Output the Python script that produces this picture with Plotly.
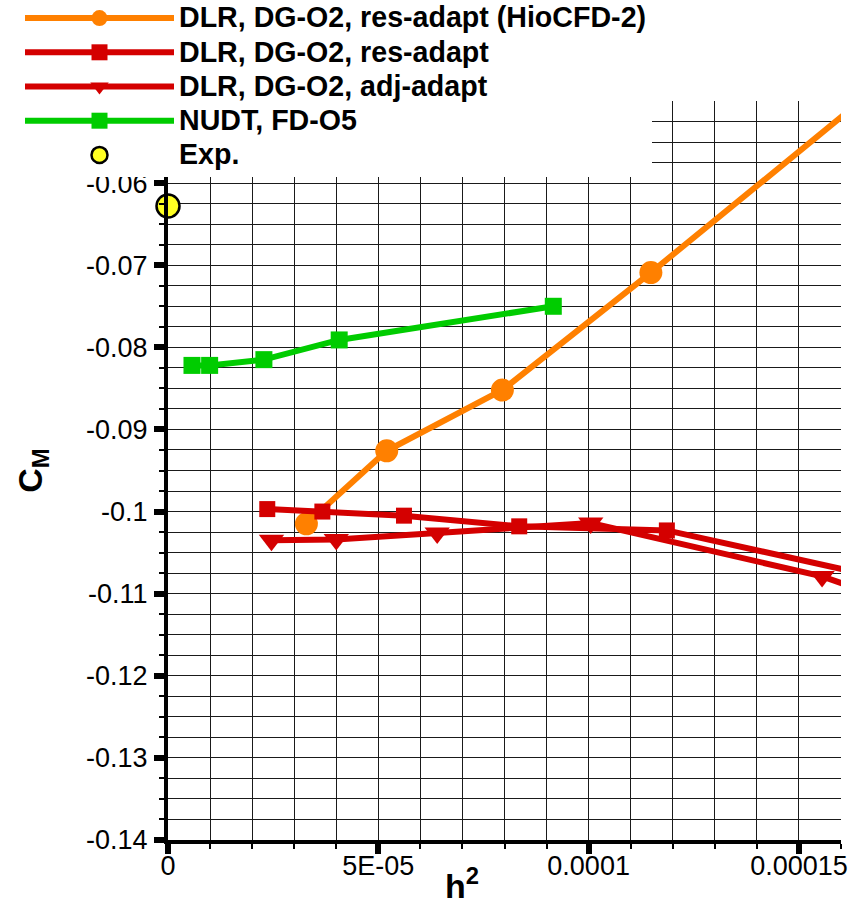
import plotly.graph_objects as go

# ---------------- data ----------------
hio_x = [3.29e-5, 5.20e-5, 7.95e-5, 1.148e-4, 1.75e-4]
hio_y = [-0.1015, -0.0926, -0.0852, -0.0709, -0.0457]

res_x = [2.36e-5, 3.67e-5, 5.61e-5, 8.35e-5, 1.186e-4, 1.70e-4]
res_y = [-0.0997, -0.1000, -0.1005, -0.1018, -0.1023, -0.1081]

adj_x = [2.46e-5, 4.00e-5, 6.40e-5, 1.005e-4, 1.555e-4, 2.40e-4]
adj_y = [-0.1035, -0.1034, -0.1026, -0.1014, -0.1079, -0.1230]

nudt_x = [5.7e-6, 9.9e-6, 2.28e-5, 4.07e-5, 9.16e-5]
nudt_y = [-0.0822, -0.0822, -0.0815, -0.0791, -0.0750]

exp_x = [0.0]
exp_y = [-0.0628]

names = [
    "DLR, DG-O2, res-adapt (HioCFD-2)",
    "DLR, DG-O2, res-adapt",
    "DLR, DG-O2, adj-adapt",
    "NUDT, FD-O5",
    "Exp.",
]

x_tickvals = [0, 5e-5, 1e-4, 1.5e-4]
x_ticktext = ["0", "5E-05", "0.0001", "0.00015"]
y_tickvals = [-0.14, -0.13, -0.12, -0.11, -0.10, -0.09, -0.08, -0.07, -0.06]
y_ticktext = ["-0.14", "-0.13", "-0.12", "-0.11", "-0.1", "-0.09", "-0.08", "-0.07", "-0.06"]

X_RANGE = [0, 1.6e-4]
Y_RANGE = [-0.14, -0.05]

ORANGE = "#FF8000"
RED = "#D40000"
GREEN = "#00CC00"
YELLOW = "#FFFF22"

W, H = 859, 906
ML, MR, MT, MB = 168, 18, 101, 66
PW, PH = W - ML - MR, H - MT - MB

LEG_FONT = 28.6


def lname(s):
    return f'<span style="font-size:{LEG_FONT}px">{s}</span>'


fig = go.Figure()
fig.add_trace(go.Scatter(x=hio_x, y=hio_y, name=lname(names[0]), mode="lines+markers",
                         line=dict(color=ORANGE, width=6),
                         marker=dict(symbol="circle", size=23, color=ORANGE)))
fig.add_trace(go.Scatter(x=res_x, y=res_y, name=lname(names[1]), mode="lines+markers",
                         line=dict(color=RED, width=6),
                         marker=dict(symbol="square", size=16, color=RED)))
fig.add_trace(go.Scatter(x=adj_x, y=adj_y, name=lname(names[2]), mode="lines+markers",
                         line=dict(color=RED, width=6),
                         marker=dict(symbol="triangle-down", size=22, color=RED)))
fig.add_trace(go.Scatter(x=nudt_x, y=nudt_y, name=lname(names[3]), mode="lines+markers",
                         line=dict(color=GREEN, width=6),
                         marker=dict(symbol="square", size=17, color=GREEN)))
fig.add_trace(go.Scatter(x=exp_x, y=exp_y, name=lname(names[4]), mode="markers",
                         cliponaxis=False,
                         marker=dict(symbol="circle", size=23, color=YELLOW,
                                     line=dict(color="black", width=2.5))))

GRID = "#1a1a1a"
tickfont = dict(family="Liberation Sans, Arial, sans-serif", size=27, color="black")

fig.update_layout(
    width=W, height=H,
    margin=dict(l=ML, r=MR, t=MT, b=MB, autoexpand=False),
    paper_bgcolor="white", plot_bgcolor="white",
    font=dict(family="Liberation Sans, Arial, sans-serif", color="black"),
    showlegend=True,
    legend=dict(
        xref="paper", yref="paper",
        x=(20 - ML) / PW, y=1 + (MT + 4) / PH, xanchor="left", yanchor="top",
        bgcolor="white", borderwidth=0,
        font=dict(family="Liberation Sans, Arial, sans-serif", size=24,
                  color="black", weight="bold"),
        itemwidth=149,
        tracegroupgap=0,
    ),
    xaxis=dict(
        range=X_RANGE, tickvals=x_tickvals, ticktext=x_ticktext,
        showline=True, linecolor="black", linewidth=4,
        ticks="outside", ticklen=10, tickwidth=6, tickcolor="black",
        tickfont=tickfont, ticklabelstandoff=-11, tickangle=0,
        showgrid=True, gridcolor=GRID, gridwidth=1,
        zeroline=False, layer="above traces",
        minor=dict(dtick=1e-5, tick0=0, showgrid=True, gridcolor=GRID, gridwidth=1,
                   ticks="outside", ticklen=5, tickwidth=2, tickcolor="black"),
    ),
    yaxis=dict(
        range=Y_RANGE, tickvals=y_tickvals, ticktext=y_ticktext,
        showline=True, linecolor="black", linewidth=4,
        ticks="outside", ticklen=10, tickwidth=6, tickcolor="black",
        tickfont=tickfont, ticklabelstandoff=1,
        showgrid=True, gridcolor=GRID, gridwidth=1,
        zeroline=False, layer="above traces",
        minor=dict(dtick=0.0025, tick0=-0.14, showgrid=True, gridcolor=GRID, gridwidth=1,
                   ticks="outside", ticklen=5, tickwidth=2, tickcolor="black"),
        title=dict(text="<b>C<sub>M</sub></b>", font=dict(size=34, color="black"),
                   standoff=34),
    ),
    annotations=[dict(
        text="<b>h<sup>2</sup></b>", xref="paper", yref="paper",
        x=(462 - ML) / PW, y=0, xanchor="center", yanchor="top", yshift=-20,
        showarrow=False, font=dict(size=34, color="black"),
    )],
)

fig.write_html("out.html")
